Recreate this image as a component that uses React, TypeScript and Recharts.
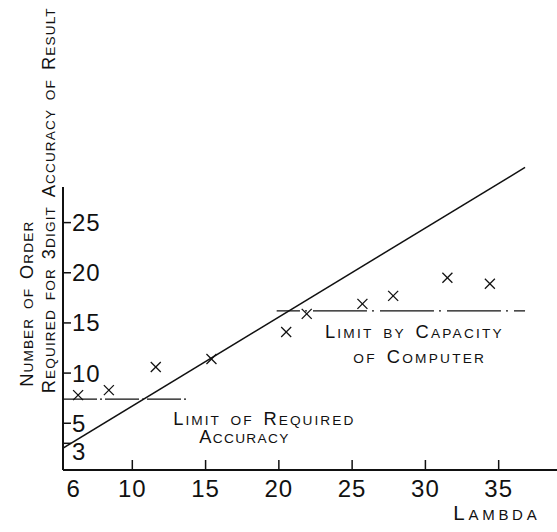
import React from "react";
import {
  ComposedChart,
  Line,
  Scatter,
  XAxis,
  YAxis,
  ReferenceLine,
} from "recharts";

// x axis (lambda) and y axis (order) ticks
const lambdaTicks = [6, 10, 15, 20, 25, 30, 35];
const orderTicks = [3, 5, 10, 15, 20, 25];

// observed points (crosses)
const obsLambda = [6.3, 8.4, 11.6, 15.4, 20.5, 21.9, 25.7, 27.8, 31.5, 34.4];
const obsOrder = [7.8, 8.3, 10.6, 11.4, 14.1, 15.9, 16.9, 17.7, 19.5, 18.9];

// straight line through the chart
const fitLambda = [5.25, 36.8];
const fitOrder = [2.5, 30.5];

// limit lines
const accuracyLambda = [5.27, 13.7];
const accuracyOrder = 7.4;
const capacityLambda = [19.85, 36.8];
const capacityOrder = 16.2;

const lambdaDomain = [5.27, 38.98];
const orderDomain = [0.34, 31.24];
const orderAxisTop = 28.55;

const observed = obsLambda.map((x, i) => ({ x, y: obsOrder[i] }));
const fitLine = fitLambda.map((x, i) => ({ x, y: fitOrder[i] }));
const accuracyLine = accuracyLambda.map((x) => ({ x, y: accuracyOrder }));
const capacityLine = capacityLambda.map((x) => ({ x, y: capacityOrder }));

const INK = "#111";
const FONT = "'Liberation Sans', Arial, sans-serif";

// fake small caps: capitals and digits big, lower case drawn as small capitals
const smallCaps = (s: string, big: number, small: number) => {
  const runs: { t: string; size: number }[] = [];
  for (const ch of s) {
    const isSmall = ch === " " || (ch !== ch.toUpperCase() && ch === ch.toLowerCase());
    const size = isSmall ? small : big;
    const last = runs[runs.length - 1];
    if (last && last.size === size) last.t += ch;
    else runs.push({ t: ch, size });
  }
  return runs.map((r, i) => (
    <tspan key={i} fontSize={r.size}>
      {r.t.toUpperCase()}
    </tspan>
  ));
};

const Caption = ({
  x,
  y,
  text,
  len,
  rotate,
  big = 18.3,
  small = 13.7,
}: {
  x: number;
  y: number;
  text: string;
  len: number;
  rotate?: boolean;
  big?: number;
  small?: number;
}) => (
  <text
    x={x}
    y={y}
    fill={INK}
    fontFamily={FONT}
    wordSpacing={4}
    textLength={len}
    lengthAdjust="spacing"
    transform={rotate ? `rotate(-90, ${x}, ${y})` : undefined}
  >
    {smallCaps(text, big, small)}
  </text>
);

const Cross = (props: any) => {
  const { cx, cy } = props;
  const s = 5;
  return (
    <g stroke={INK} strokeWidth={1.3}>
      <line x1={cx - s} y1={cy - s} x2={cx + s} y2={cy + s} />
      <line x1={cx - s} y1={cy + s} x2={cx + s} y2={cy - s} />
    </g>
  );
};

const AXIS_Y = 470;
const AXIS_X = 63;

const XTick = (props: any) => {
  const { x, payload } = props;
  return (
    <g>
      {payload.value !== 6 && (
        <line x1={x} y1={AXIS_Y} x2={x} y2={AXIS_Y - 10} stroke={INK} strokeWidth={1.5} />
      )}
      <text
        x={x}
        y={AXIS_Y + 27}
        textAnchor="middle"
        fill={INK}
        fontFamily={FONT}
        fontSize={24}
        letterSpacing={1}
      >
        {payload.value}
      </text>
    </g>
  );
};

const YTick = (props: any) => {
  const { y, payload } = props;
  // the lowest label sits a little lower in the original drawing
  const dy = payload.value === 3 ? 8 : 0;
  return (
    <g>
      <line x1={AXIS_X} y1={y} x2={AXIS_X + 8} y2={y} stroke={INK} strokeWidth={1.5} />
      <text
        x={AXIS_X + 9}
        y={y + 8.5 + dy}
        textAnchor="start"
        fill={INK}
        fontFamily={FONT}
        fontSize={24}
        letterSpacing={1}
      >
        {payload.value}
      </text>
    </g>
  );
};

export default function App() {
  return (
    <div style={{ position: "absolute", left: 0, top: 0, background: "#fff" }}>
      <ComposedChart
        width={557}
        height={532}
        margin={{ top: 160, right: 0, left: 3, bottom: 2 }}
      >
        <XAxis
          type="number"
          dataKey="x"
          domain={lambdaDomain}
          ticks={lambdaTicks}
          interval={0}
          allowDataOverflow
          height={60}
          tickSize={0}
          tickMargin={0}
          tickLine={false}
          axisLine={{ stroke: INK, strokeWidth: 2 }}
          tick={(p: any) => <XTick {...p} />}
        />
        <YAxis
          type="number"
          dataKey="y"
          domain={orderDomain}
          ticks={orderTicks}
          interval={0}
          allowDataOverflow
          width={60}
          tickSize={0}
          tickMargin={0}
          tickLine={false}
          axisLine={false}
          tick={(p: any) => <YTick {...p} />}
        />
        <ReferenceLine
          segment={[
            { x: lambdaDomain[0], y: orderDomain[0] },
            { x: lambdaDomain[0], y: orderAxisTop },
          ]}
          stroke={INK}
          strokeWidth={2}
          ifOverflow="visible"
        />
        <Line
          data={fitLine}
          dataKey="y"
          stroke={INK}
          strokeWidth={1.5}
          dot={false}
          activeDot={false}
          isAnimationActive={false}
        />
        <Line
          data={accuracyLine}
          dataKey="y"
          stroke={INK}
          strokeWidth={1.4}
          strokeDasharray="34 3 2 3"
          dot={false}
          activeDot={false}
          isAnimationActive={false}
        />
        <Line
          data={capacityLine}
          dataKey="y"
          stroke={INK}
          strokeWidth={1.4}
          strokeDasharray="54 5 2 6"
          strokeDashoffset={30.7}
          dot={false}
          activeDot={false}
          isAnimationActive={false}
        />
        <Scatter
          data={observed}
          dataKey="y"
          shape={(p: any) => <Cross {...p} />}
          isAnimationActive={false}
        />
        <Caption x={173.3} y={425} text="Limit of Required" len={180} />
        <Caption x={199.3} y={443} text="Accuracy" len={89} />
        <Caption x={325} y={338.3} text="Limit by Capacity" len={176.7} />
        <Caption x={353.3} y={362.7} text="of Computer" len={130.7} />
        <Caption x={453.3} y={520} text="Lambda" len={83.4} big={20.5} small={15} />
        <Caption x={33.5} y={386.7} text="Number of Order" len={165} rotate />
        <Caption x={55.5} y={393.3} text="Required for 3digit Accuracy of Result" len={385} rotate />
      </ComposedChart>
    </div>
  );
}
